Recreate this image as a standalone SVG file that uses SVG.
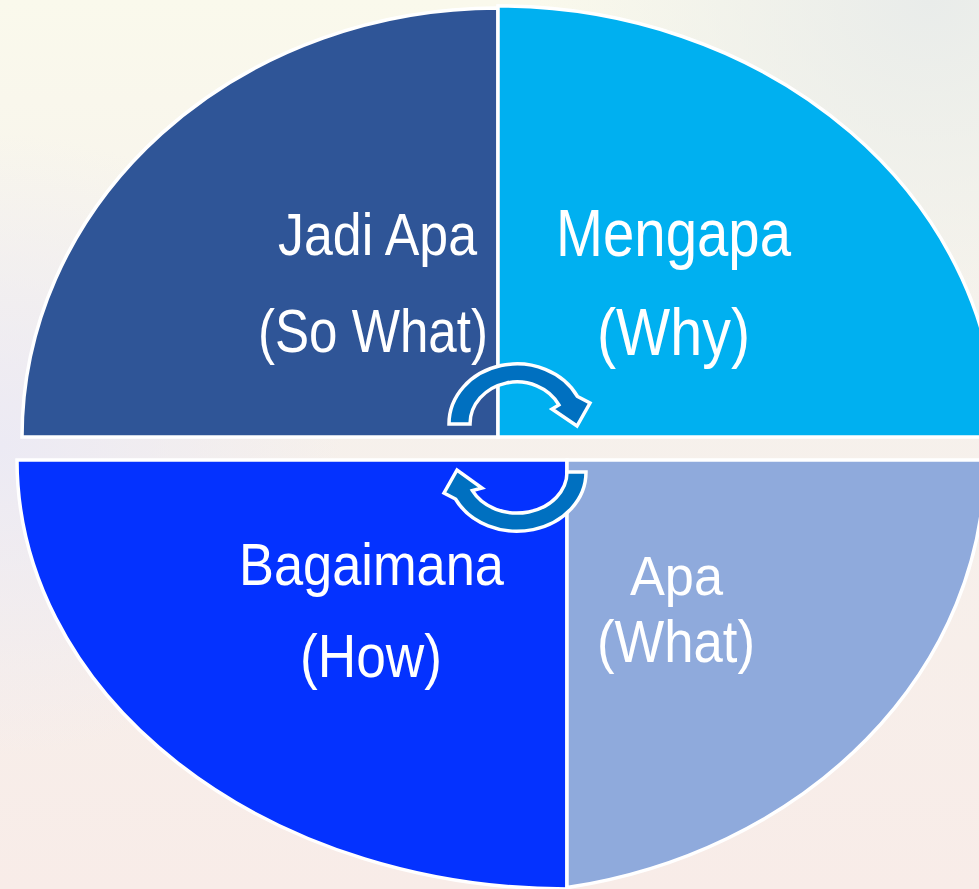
<svg xmlns="http://www.w3.org/2000/svg" width="979" height="889" viewBox="0 0 979 889">
  <defs>
    <linearGradient id="bgBase" x1="0" y1="0" x2="0" y2="1">
      <stop offset="0" stop-color="#FAF9EC"/>
      <stop offset="0.45" stop-color="#F6F1EC"/>
      <stop offset="1" stop-color="#F8ECE8"/>
    </linearGradient>
    <radialGradient id="bgLeft" cx="0" cy="0.5" r="0.35">
      <stop offset="0" stop-color="#ECEAF4" stop-opacity="1"/>
      <stop offset="1" stop-color="#ECEAF4" stop-opacity="0"/>
    </radialGradient>
    <radialGradient id="bgTopRight" cx="0.95" cy="0" r="0.4">
      <stop offset="0" stop-color="#E9ECEA" stop-opacity="1"/>
      <stop offset="1" stop-color="#E9ECEA" stop-opacity="0"/>
    </radialGradient>
    <style>
      .quad { stroke: #FFFFFF; stroke-width: 3.5; stroke-linejoin: miter; }
      .label { font-family: "Liberation Sans", Arial, sans-serif; fill: #FFFFFF; }
      .cycle { fill: #0070C0; stroke: #FFFFFF; stroke-width: 3.5; stroke-linejoin: miter; }
    </style>
  </defs>

  <!-- soft background -->
  <rect x="0" y="0" width="979" height="889" fill="url(#bgBase)"/>
  <rect x="0" y="0" width="979" height="889" fill="url(#bgLeft)"/>
  <rect x="0" y="0" width="979" height="889" fill="url(#bgTopRight)"/>

  <!-- top-left quadrant -->
  <g id="node-jadi-apa">
    <path class="quad" fill="#2F5597" d="M498,437 L22,437 A476 429 0 0 1 498,8 Z"/>
    <text class="label" x="278" y="255" font-size="60" textLength="199" lengthAdjust="spacingAndGlyphs">Jadi Apa</text>
    <text class="label" x="258" y="352" font-size="62" textLength="230" lengthAdjust="spacingAndGlyphs">(So What)</text>
  </g>

  <!-- top-right quadrant -->
  <g id="node-mengapa">
    <path class="quad" fill="#00B0F0" d="M498,437 L498,6 A499 431 0 0 1 997,437 Z"/>
    <text class="label" x="556" y="256" font-size="66" textLength="235" lengthAdjust="spacingAndGlyphs">Mengapa</text>
    <text class="label" x="597" y="355" font-size="66" textLength="153" lengthAdjust="spacingAndGlyphs">(Why)</text>
  </g>

  <!-- bottom-left quadrant -->
  <g id="node-bagaimana">
    <path class="quad" fill="#0432FF" d="M567,460 L567,889 A550 429 0 0 1 17,460 Z"/>
    <text class="label" x="239" y="585" font-size="59" textLength="265" lengthAdjust="spacingAndGlyphs">Bagaimana</text>
    <text class="label" x="300" y="677" font-size="62" textLength="142" lengthAdjust="spacingAndGlyphs">(How)</text>
  </g>

  <!-- bottom-right quadrant -->
  <g id="node-apa">
    <path class="quad" fill="#8FAADC" d="M567,460 L985,460 A505 434 0 0 1 567,887.6 Z"/>
    <text class="label" x="630" y="595" font-size="56" textLength="93" lengthAdjust="spacingAndGlyphs">Apa</text>
    <text class="label" x="597" y="662" font-size="60" textLength="158" lengthAdjust="spacingAndGlyphs">(What)</text>
  </g>

  <!-- circular arrows -->
  <g id="connectors">
    <path class="cycle" d="M449,424 A68 60 0 0 1 577.5,396.5 L590,403 L577,426 L552,409 L558.9,404.9 A47 42 0 0 0 470,424 Z"/>
    <path class="cycle" d="M586,472 A69 59 0 0 1 455.5,499 L444,493 L457,470 L482,488 L472.4,490.6 A50 41 0 0 0 567,472 Z"/>
  </g>
</svg>
